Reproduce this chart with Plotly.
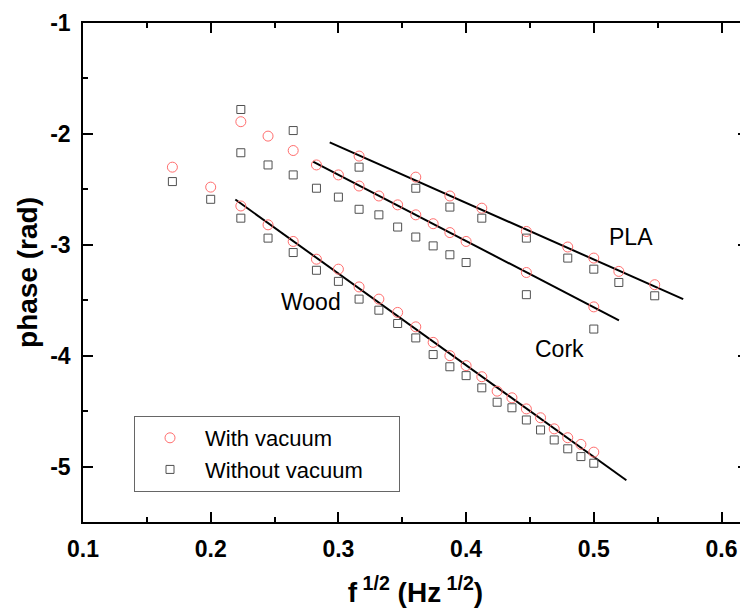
import plotly.graph_objects as go

# ---- data ----
with_x = [0.17, 0.20, 0.2236, 0.2236, 0.2449, 0.2449, 0.2646, 0.2646, 0.2828, 0.2828,
          0.30, 0.30, 0.3162, 0.3162, 0.3162, 0.3317, 0.3317, 0.3464, 0.3464,
          0.3606, 0.3606, 0.3606, 0.3742, 0.3742, 0.3873, 0.3873, 0.3873,
          0.40, 0.40, 0.4123, 0.4123, 0.4243, 0.4359, 0.4472, 0.4472, 0.4472,
          0.4583, 0.4690, 0.4796, 0.4796, 0.4899, 0.50, 0.50, 0.50, 0.5196, 0.5477]
with_y = [-2.30, -2.48, -1.89, -2.65, -2.02, -2.82, -2.15, -2.97, -2.28, -3.13,
          -2.37, -3.22, -2.20, -2.47, -3.38, -2.56, -3.49, -2.64, -3.61,
          -2.39, -2.73, -3.74, -2.81, -3.88, -2.56, -2.89, -4.00,
          -2.97, -4.09, -2.67, -4.19, -4.32, -4.38, -2.88, -3.25, -4.48,
          -4.56, -4.66, -3.02, -4.74, -4.80, -3.12, -3.56, -4.87, -3.24, -3.36]

without_x = [0.17, 0.20, 0.2236, 0.2236, 0.2236, 0.2449, 0.2449, 0.2646, 0.2646, 0.2646,
             0.2828, 0.2828, 0.30, 0.30, 0.3162, 0.3162, 0.3162, 0.3317, 0.3317,
             0.3464, 0.3464, 0.3606, 0.3606, 0.3606, 0.3742, 0.3742,
             0.3873, 0.3873, 0.3873, 0.40, 0.40, 0.4123, 0.4123, 0.4243, 0.4359,
             0.4472, 0.4472, 0.4472, 0.4583, 0.4690, 0.4796, 0.4796, 0.4899,
             0.50, 0.50, 0.50, 0.5196, 0.5477]
without_y = [-2.43, -2.59, -1.78, -2.17, -2.76, -2.28, -2.94, -1.97, -2.37, -3.07,
             -2.49, -3.23, -2.57, -3.33, -2.30, -2.68, -3.49, -2.73, -3.59,
             -2.84, -3.71, -2.49, -2.93, -3.84, -3.01, -3.99,
             -2.66, -3.09, -4.10, -3.16, -4.18, -2.76, -4.29, -4.42, -4.47,
             -2.94, -3.45, -4.58, -4.67, -4.76, -3.12, -4.84, -4.91,
             -3.22, -3.76, -4.97, -3.34, -3.46]

# linear fits (start / end points)
wood_fit_x = [0.2193, 0.5255]
wood_fit_y = [-2.592, -5.124]
cork_fit_x = [0.2801, 0.5197]
cork_fit_y = [-2.250, -3.681]
pla_fit_x = [0.2932, 0.570]
pla_fit_y = [-2.076, -3.490]

material_labels = ["Wood", "Cork", "PLA"]
label_x = [0.2783, 0.4733, 0.5294]
label_y = [-3.516, -3.94, -2.93]

x_tickvals = [0.1, 0.2, 0.3, 0.4, 0.5, 0.6]
x_ticktext = ["0.1", "0.2", "0.3", "0.4", "0.5", "0.6"]
y_tickvals = [-5, -4, -3, -2, -1]
y_ticktext = ["-5", "-4", "-3", "-2", "-1"]

FONT = "Liberation Sans, Arial, sans-serif"

fig = go.Figure()
for fx, fy in [(wood_fit_x, wood_fit_y), (cork_fit_x, cork_fit_y), (pla_fit_x, pla_fit_y)]:
    fig.add_trace(go.Scatter(x=fx, y=fy, mode="lines", line=dict(color="black", width=2),
                             showlegend=False, hoverinfo="skip"))

fig.add_trace(go.Scatter(x=with_x, y=with_y, mode="markers", name="With vacuum",
                         marker=dict(symbol="circle-open", size=10, color="#ff6e6e",
                                     line=dict(width=1, color="#ff6e6e"))))
fig.add_trace(go.Scatter(x=without_x, y=without_y, mode="markers",
                         name="Without vacuum&nbsp;&nbsp;&nbsp;&nbsp;&nbsp;",
                         marker=dict(symbol="square-open", size=8, color="#505050",
                                     line=dict(width=1, color="#505050"))))

for t, lx, ly in zip(material_labels, label_x, label_y):
    fig.add_annotation(x=lx, y=ly, text=t, showarrow=False,
                       font=dict(family=FONT, size=23, color="black"))

x_range = [0.1, 0.1 + 665 / 1277]
y_range = [-5.5, -1]

# the page body adds an 8px offset, so the figure is 8px smaller in each direction
fig.update_layout(
    width=740, height=602,
    margin=dict(l=75, r=0, t=15, b=88, autoexpand=False),
    paper_bgcolor="white", plot_bgcolor="white",
    font=dict(family=FONT, color="black"),
    xaxis=dict(range=x_range, tickvals=x_tickvals, ticktext=x_ticktext, automargin=False,
               ticks="inside", ticklen=10, tickwidth=1.5, tickcolor="black",
               showline=True, linewidth=1.5, linecolor="black", mirror="ticks",
               showgrid=False, zeroline=False,
               minor=dict(dtick=0.05, tick0=0.1, ticks="inside", ticklen=5, tickwidth=1.5, tickcolor="black"),
               tickfont=dict(family=FONT, size=23, weight="bold"),
               ticklabelstandoff=6,
               title=dict(text="f<sup> 1/2</sup> (Hz<sup> 1/2</sup>)",
                          font=dict(family=FONT, size=28, weight="bold"), standoff=21)),
    yaxis=dict(range=y_range, tickvals=y_tickvals, ticktext=y_ticktext, automargin=False,
               ticks="inside", ticklen=10, tickwidth=1.5, tickcolor="black",
               showline=True, linewidth=1.5, linecolor="black", mirror=False,
               showgrid=False, zeroline=False,
               minor=dict(dtick=0.5, tick0=-1, ticks="inside", ticklen=5, tickwidth=1.5, tickcolor="black"),
               tickfont=dict(family=FONT, size=23, weight="bold"),
               ticklabelstandoff=6,
               title=dict(text="phase (rad)", font=dict(family=FONT, size=28, weight="bold"), standoff=4)),
    yaxis2=dict(range=y_range, overlaying="y", side="right", showline=False, automargin=False,
                tickvals=y_tickvals, showticklabels=False,
                ticks="inside", ticklen=10, tickwidth=1.5, tickcolor="black",
                minor=dict(dtick=0.5, tick0=-1, ticks="inside", ticklen=5, tickwidth=1.5, tickcolor="black"),
                showgrid=False, zeroline=False),
    legend=dict(x=0.0767, y=0.2124, xanchor="left", yanchor="top",
                bordercolor="#666666", borderwidth=1, bgcolor="white",
                font=dict(family=FONT, size=22, color="black"),
                itemwidth=60, tracegroupgap=0),
    showlegend=True,
)
fig.add_trace(go.Scatter(x=[None], y=[None], yaxis="y2", showlegend=False, hoverinfo="skip"))

fig.write_html("out.html")
